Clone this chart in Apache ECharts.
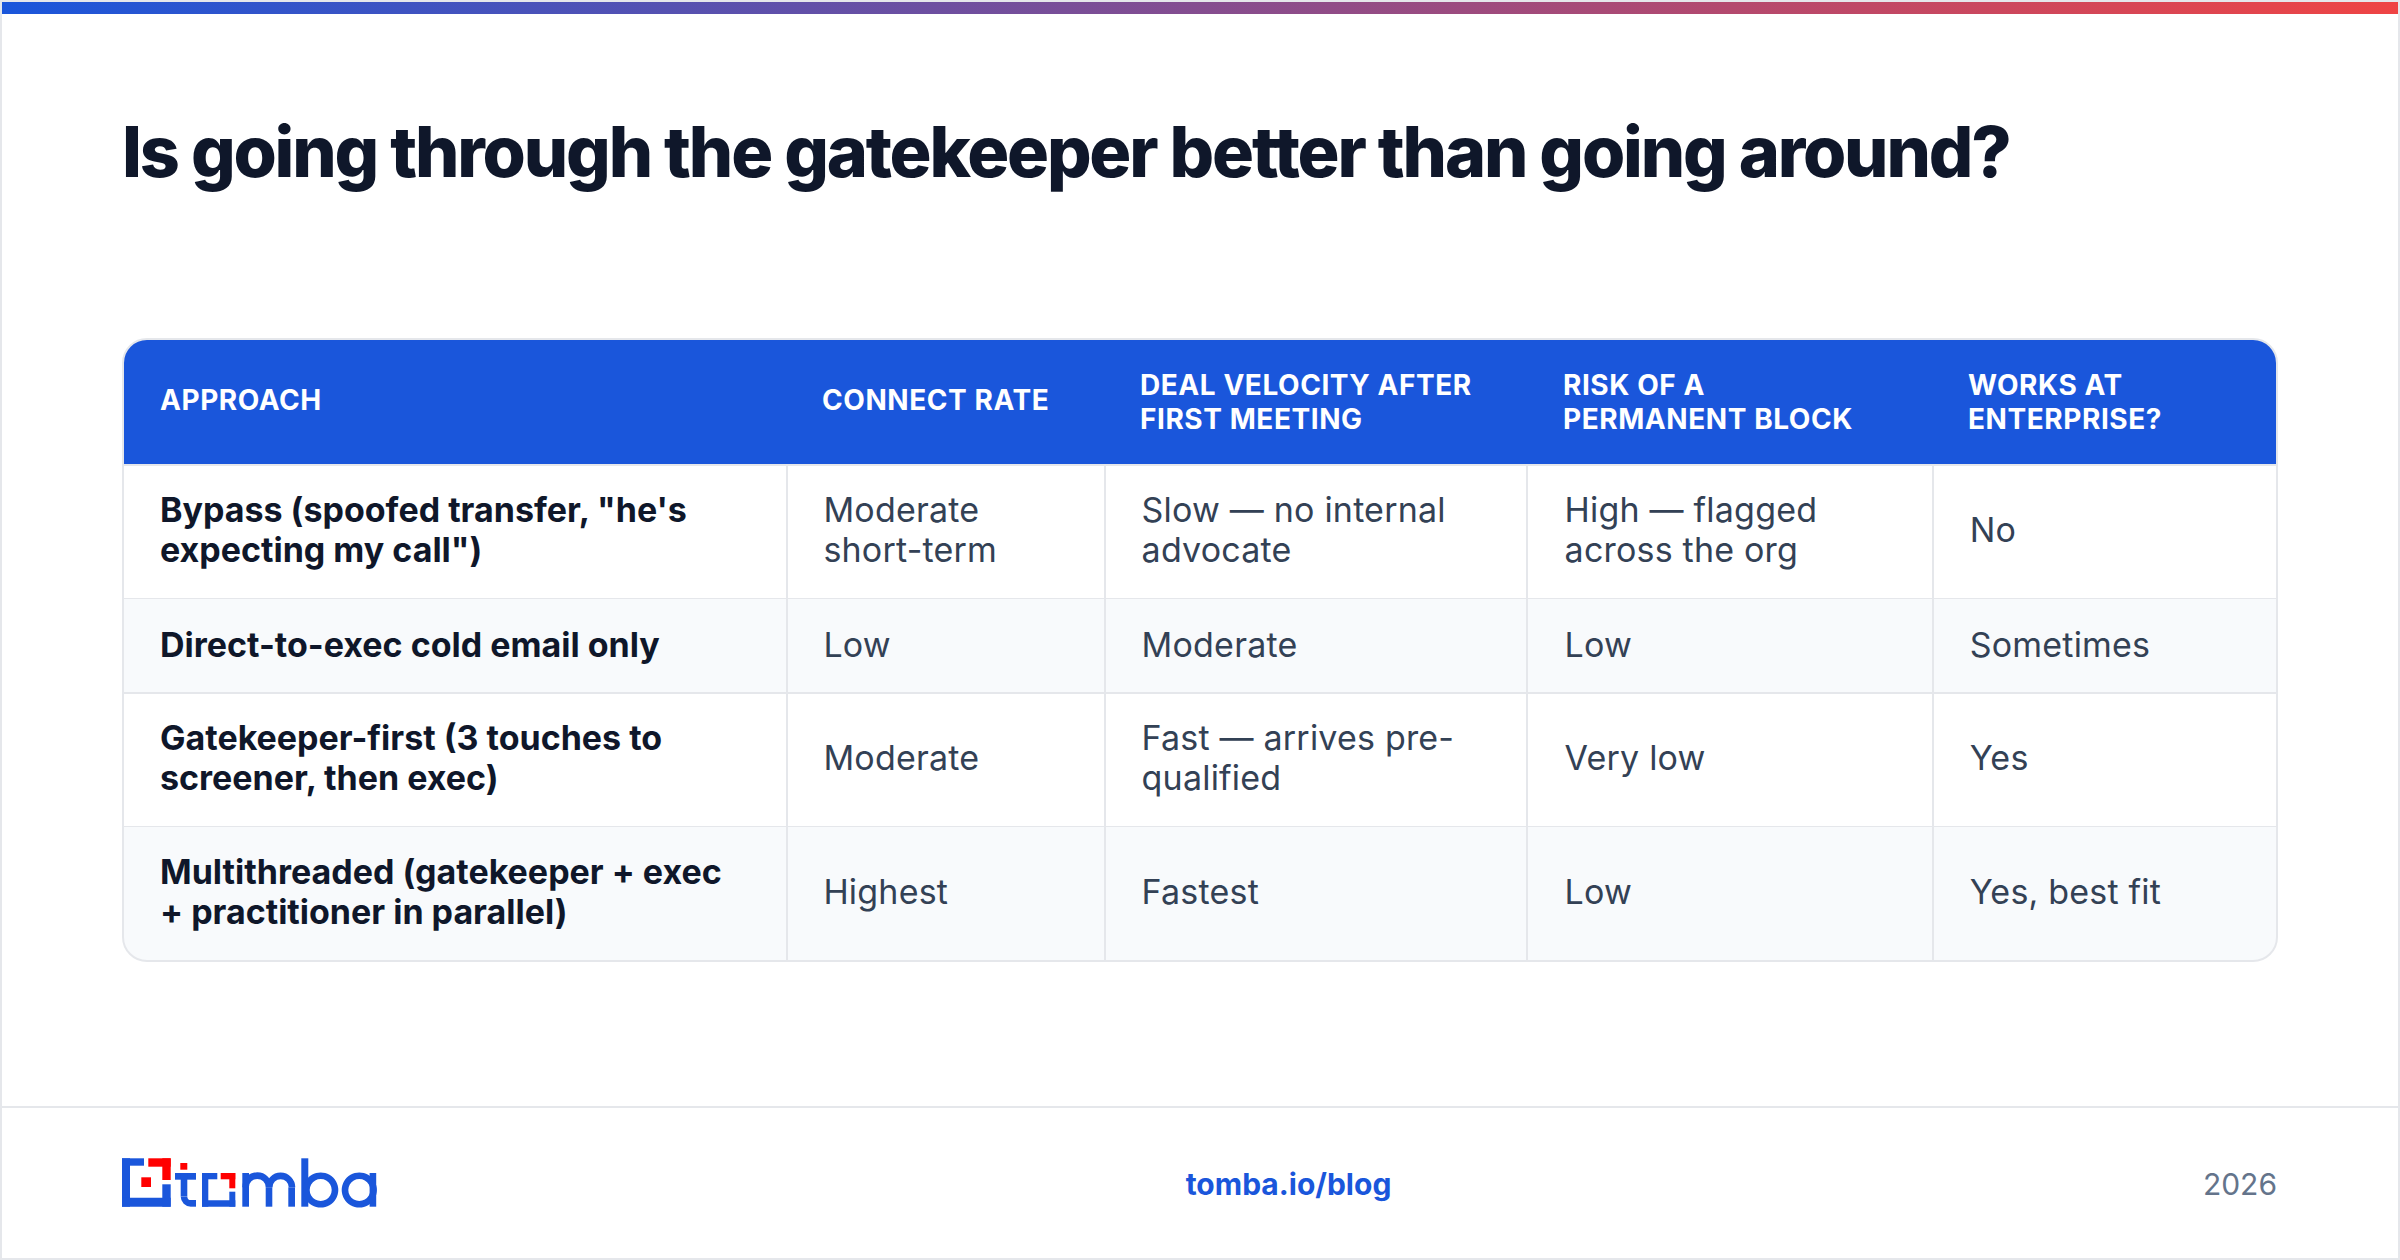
<!DOCTYPE html>
<html>
<head>
<meta charset="utf-8">
<title>Gatekeeper table</title>
<script src="https://cdn.jsdelivr.net/npm/echarts@6/dist/echarts.min.js"></script>
<style>
html, body { margin: 0; padding: 0; background: #fff; }
#main { width: 2400px; height: 1260px; }
/* tracking per text size, the svg renderer puts the font in the style attribute */
text[style*="70px"] { letter-spacing: -2.18px; }
text[style*="28px"] { letter-spacing: 0.56px; }
text[style*="34px"][style*="400"] { letter-spacing: 0.2px; }
</style>
</head>
<body>
<div id="main"></div>
<script>
const chartTitle = 'Is going through the gatekeeper better than going around?';
const headers = [
  ['APPROACH'],
  ['CONNECT RATE'],
  ['DEAL VELOCITY AFTER', 'FIRST MEETING'],
  ['RISK OF A', 'PERMANENT BLOCK'],
  ['WORKS AT', 'ENTERPRISE?']
];
const approaches = [
  ['Bypass (spoofed transfer, "he\'s', 'expecting my call")'],
  ['Direct-to-exec cold email only'],
  ['Gatekeeper-first (3 touches to', 'screener, then exec)'],
  ['Multithreaded (gatekeeper + exec', '+ practitioner in parallel)']
];
const connectRate = [['Moderate', 'short-term'], ['Low'], ['Moderate'], ['Highest']];
const dealVelocity = [['Slow \u2014 no internal', 'advocate'], ['Moderate'], ['Fast \u2014 arrives pre-', 'qualified'], ['Fastest']];
const blockRisk = [['High \u2014 flagged', 'across the org'], ['Low'], ['Very low'], ['Low']];
const enterprise = [['No'], ['Sometimes'], ['Yes'], ['Yes, best fit']];
const footerLink = 'tomba.io/blog';
const footerYear = '2026';

const font = 'Inter';
const colEdges = [123, 787, 1105, 1527, 1933, 2277];
const colNudge = [0, 0, 0.2, 1.2, 0.3];
const rowEdges = [464, 599, 693, 827, 961];
const rowShift = [-2, -2, -2.5, -2.5];
const tableTop = 339;
const radius = 24;
const border = '#e5e7eb';
const blue = '#1a56db';
const red = '#ff0000';

const chart = echarts.init(document.getElementById('main'), null, { renderer: 'svg' });
const g = [];

function rect(x, y, w, h, fill, r) {
  g.push({ type: 'rect', silent: true, shape: { x, y, width: w, height: h, r: r || 0 }, style: { fill } });
}
function line(x1, y1, x2, y2, color) {
  g.push({ type: 'line', silent: true, shape: { x1, y1, x2, y2 }, style: { stroke: color || border, lineWidth: 2 } });
}
function text(str, x, y, size, weight, fill, align) {
  g.push({
    type: 'text', silent: true, x, y,
    style: { text: str, fontFamily: font, fontSize: size, fontWeight: weight, fill, align: align || 'left', verticalAlign: 'middle' }
  });
}
function cellLines(lines, x, cy, size, weight, fill, gap) {
  const top = cy - (lines.length - 1) * gap / 2;
  lines.forEach((l, i) => text(l, x, top + i * gap, size, weight, fill));
}
function box(x0, y0, x1, y1, fill) {
  rect(x0, y0, x1 - x0, y1 - y0, fill);
}
function arch(cx, cy, r) {
  g.push({
    type: 'arc', silent: true,
    shape: { cx, cy, r, startAngle: Math.PI, endAngle: 2 * Math.PI, clockwise: true },
    style: { fill: 'none', stroke: blue, lineWidth: 6.6 }
  });
}
function ring(cx, cy) {
  g.push({ type: 'ring', silent: true, shape: { cx, cy, r: 17.6, r0: 11 }, style: { fill: blue } });
}

// page frame and top bar
g.push({
  type: 'rect', silent: true, shape: { x: 2, y: 2, width: 2396, height: 12 },
  style: { fill: new echarts.graphic.LinearGradient(0, 0, 1, 0, [{ offset: 0, color: '#1a56db' }, { offset: 1, color: '#ef4444' }]) }
});
line(1, 0, 1, 1260);
line(2399, 0, 2399, 1260);
line(0, 1, 2400, 1);
line(0, 1259, 2400, 1259);

text(chartTitle, 122, 151, 70, 800, '#0f172a');

// table body
const rowsData = [connectRate, dealVelocity, blockRisk, enterprise];
rowEdges.slice(0, -1).forEach((top, r) => {
  const bottom = rowEdges[r + 1];
  if (r % 2 === 1) {
    if (r === approaches.length - 1) {
      g.push({ type: 'rect', silent: true, shape: { x: colEdges[0], y: top, width: colEdges[5] - colEdges[0], height: bottom - top, r: [0, 0, radius, radius] }, style: { fill: '#f8fafc' } });
    } else {
      rect(colEdges[0], top, colEdges[5] - colEdges[0], bottom - top, '#f8fafc');
    }
  }
  const cy = (top + bottom) / 2 + rowShift[r];
  cellLines(approaches[r], 160, cy, 34, 700, '#0f172a', 40);
  rowsData.forEach((col, c) => cellLines(col[r], colEdges[c + 1] + 36.4 + colNudge[c + 1], cy, 34, 400, '#334155', 40));
  if (r < approaches.length - 1) line(colEdges[0], bottom, colEdges[5], bottom);
});
colEdges.slice(1, -1).forEach(x => line(x, rowEdges[0], x, rowEdges[4]));

// header
g.push({ type: 'rect', silent: true, shape: { x: colEdges[0], y: tableTop, width: colEdges[5] - colEdges[0], height: rowEdges[0] - tableTop, r: [radius, radius, 0, 0] }, style: { fill: blue } });
line(colEdges[0], rowEdges[0] + 1, colEdges[5], rowEdges[0] + 1);
headers.forEach((h, c) => cellLines(h, c === 0 ? 160 : colEdges[c] + 35 + (c === 3 ? 1 : 0), h.length > 1 ? 401.5 : 400, 28, 700, '#ffffff', 34));
g.push({ type: 'rect', silent: true, shape: { x: colEdges[0], y: tableTop, width: colEdges[5] - colEdges[0], height: rowEdges[4] - tableTop, r: radius }, style: { fill: 'none', stroke: border, lineWidth: 2 } });

// footer
line(0, 1107, 2400, 1107);
text(footerLink, 1288.5, 1183.5, 30, 700, blue, 'center');
text(footerYear, 2277, 1183.5, 30, 400, '#64748b', 'right');

// logo: square mark
box(122, 1158.3, 144, 1165.7, blue);
box(122, 1158.3, 130, 1206.7, blue);
box(122, 1197.7, 170.7, 1206.7, blue);
box(162.3, 1184.3, 170.7, 1206.7, blue);
box(148.3, 1158.3, 170.7, 1166.7, red);
box(162.3, 1158.3, 170.7, 1180, red);
box(141.3, 1177.3, 151, 1187, red);
// logo: t
box(180.3, 1163, 187.3, 1169.7, red);
box(175, 1173, 196, 1179.7, blue);
box(180.7, 1173, 187.3, 1196.4, blue);
g.push({
  type: 'arc', silent: true,
  shape: { cx: 191, cy: 1196.4, r: 7, startAngle: Math.PI, endAngle: Math.PI / 2, clockwise: false },
  style: { fill: 'none', stroke: blue, lineWidth: 6.6 }
});
box(191, 1200, 196, 1206.7, blue);
// logo: o as a small square mark
box(202, 1173, 217.3, 1179.3, blue);
box(202, 1173, 208.3, 1206.7, blue);
box(202, 1200.3, 235.3, 1206.7, blue);
box(229.3, 1191.7, 235.3, 1206.7, blue);
box(220.7, 1173, 235.3, 1179.3, red);
box(229.3, 1173, 235.3, 1188.3, red);
// logo: m
box(242.3, 1173, 249, 1206.7, blue);
box(265.7, 1187.3, 272.3, 1206.7, blue);
box(288.3, 1187.3, 295, 1206.7, blue);
arch(257.3, 1187.3, 11.7);
arch(280.6, 1187.3, 11.4);
// logo: b
box(301.3, 1158.3, 308.3, 1206.7, blue);
ring(320.7, 1190);
// logo: a
ring(359.3, 1190);
box(369.6, 1173, 376.2, 1206.7, blue);

chart.setOption({ animation: false, backgroundColor: '#ffffff', graphic: { elements: g } });
</script>
</body>
</html>
